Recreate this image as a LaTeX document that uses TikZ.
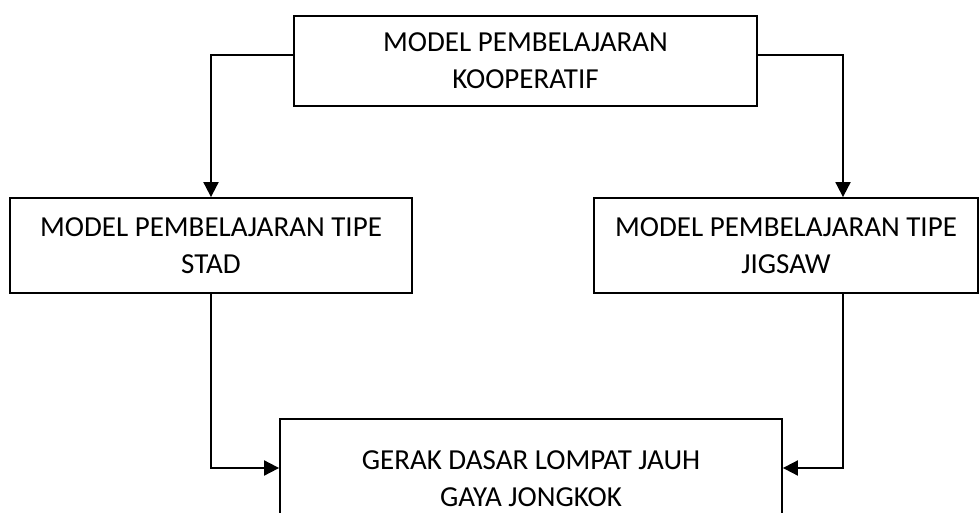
\documentclass[tikz,border=0pt]{standalone}
\usepackage{fontspec}
\setmainfont{Carlito}
\usetikzlibrary{arrows.meta}
\begin{document}
\begin{tikzpicture}[x=1pt,y=-1pt,
  box/.style={draw,line width=1.8pt,rectangle,align=center,inner sep=0pt,
    font=\fontsize{29}{37}\selectfont},
  conn/.style={line width=1.9pt,-{Triangle[length=15pt,width=15pt]}}]
\clip (0,0) rectangle (979,513);
\fill[white] (0,0) rectangle (979,513);
\node[box,minimum width=463pt,minimum height=90pt] (top) at (525.5,61) {MODEL PEMBELAJARAN\\KOOPERATIF};
\node[box,minimum width=402pt,minimum height=95pt] (left) at (211,245.5) {MODEL PEMBELAJARAN TIPE\\STAD};
\node[box,minimum width=384pt,minimum height=95pt] (right) at (786,245.5) {MODEL PEMBELAJARAN TIPE\\JIGSAW};
\node[box,minimum width=502pt,minimum height=120pt] (bottom) at (531,479) {GERAK DASAR LOMPAT JAUH\\GAYA JONGKOK};
\draw[conn] ([yshift=6pt]top.west) -| (left.north);
\draw[conn] ([yshift=6pt]top.east) -| ([xshift=57pt]right.north);
\draw[conn] (left.south) |- ([yshift=11pt]bottom.west);
\draw[conn] ([xshift=57pt]right.south) |- ([yshift=11pt]bottom.east);
\end{tikzpicture}
\end{document}
